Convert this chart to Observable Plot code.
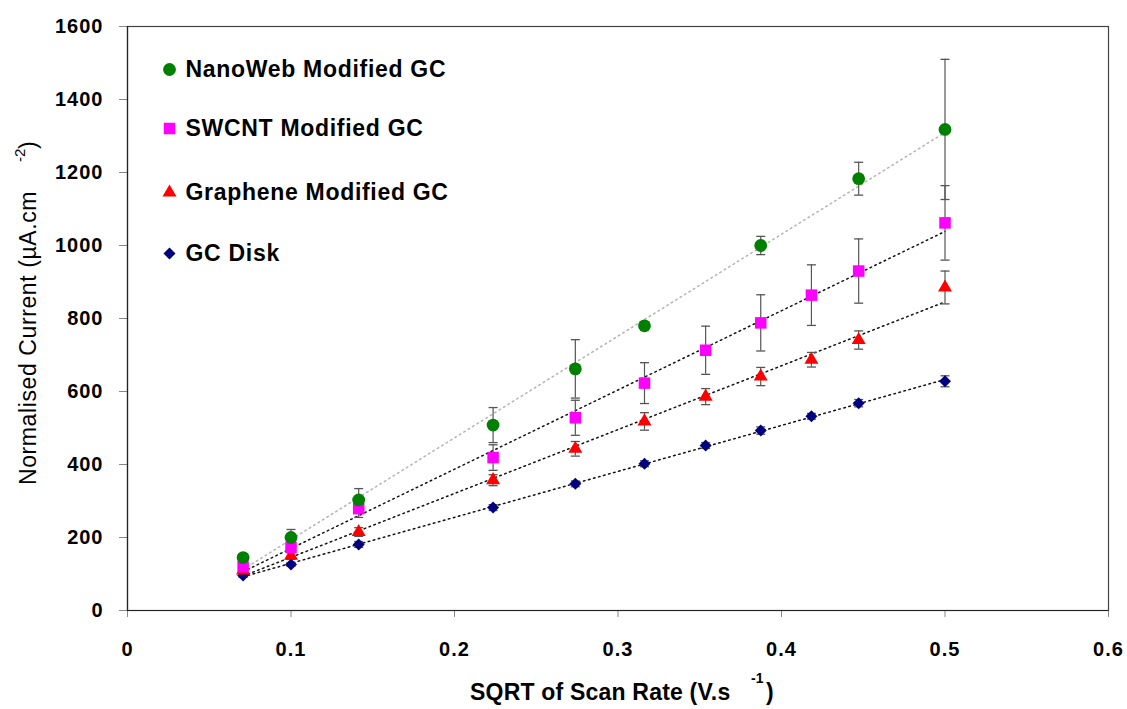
<!DOCTYPE html>
<html>
<head>
<meta charset="utf-8">
<script src="https://cdn.jsdelivr.net/npm/d3@7"></script>
<script src="https://cdn.jsdelivr.net/npm/@observablehq/plot@0.6"></script>
<style>
  html, body { margin: 0; padding: 0; background: white; }
  #chart { width: 1127px; height: 709px; }
</style>
</head>
<body>
<div id="chart"></div>
<script>
// ---- data ----
const scanRateSqrt = [0.0707, 0.1, 0.1414, 0.2236, 0.2739, 0.3162, 0.3536, 0.3873, 0.4183, 0.4472, 0.5];

const nanowebValues = [145, 200, 303, 508, 662, 780, null, 1000, null, 1183, 1318];
const nanowebErrors = [10, 22, 31, 48, 80, 10, null, 25, null, 45, 192];

const swcntValues = [120, 173, 279, 419, 528, 623, 713, 788, 864, 930, 1062];
const swcntErrors = [10, 15, 24, 35, 48, 56, 66, 77, 83, 88, 102];

const grapheneValues = [110, 150, 215, 357, 443, 518, 586, 641, 687, 741, 885];
const grapheneErrors = [8, 10, 12, 15, 20, 24, 22, 25, 20, 25, 45];

const gcDiskValues = [96, 126, 181, 282, 347, 402, 452, 493, 532, 568, 628];
const gcDiskErrors = [5, 5, 8, 8, 8, 8, 8, 10, 8, 10, 15];

const seriesNames = ["NanoWeb Modified GC", "SWCNT Modified GC", "Graphene Modified GC", "GC Disk"];
const xTickValues = [0, 0.1, 0.2, 0.3, 0.4, 0.5, 0.6];
const yTickValues = [0, 200, 400, 600, 800, 1000, 1200, 1400, 1600];

// ---- styles ----
const seriesStyle = {
  "NanoWeb Modified GC": {fill: "#008000", symbol: "circle", r: 6.4, line: "#b4b4b4"},
  "SWCNT Modified GC": {fill: "#ff00ff", symbol: "square", r: 6.5, line: "#111"},
  "Graphene Modified GC": {fill: "#ff0000", symbol: "triangle", r: 5.2, line: "#111"},
  "GC Disk": {fill: "#000080", symbol: "diamond2", r: 5.4, line: "#111"}
};

const valueArrays = [nanowebValues, swcntValues, grapheneValues, gcDiskValues];
const errorArrays = [nanowebErrors, swcntErrors, grapheneErrors, gcDiskErrors];

const rows = [];
seriesNames.forEach((name, i) => {
  scanRateSqrt.forEach((x, j) => {
    const v = valueArrays[i][j];
    if (v != null) rows.push({series: name, x, v, e: errorArrays[i][j]});
  });
});

const capSymbol = {
  draw(ctx) { ctx.moveTo(-4.5, 0); ctx.lineTo(4.5, 0); }
};

const regressionMarks = seriesNames.slice().reverse().map(name =>
  Plot.linearRegressionY(rows.filter(d => d.series === name), {
    x: "x", y: "v", ci: 0,
    stroke: seriesStyle[name].line, strokeWidth: 1.5, strokeDasharray: "1.6,3.6"
  })
);

const errorMarks = [
  Plot.ruleX(rows, {x: "x", y1: d => d.v - d.e, y2: d => d.v + d.e, stroke: "#555", strokeWidth: 1.2}),
  Plot.dot(rows, {x: "x", y: d => d.v + d.e, symbol: capSymbol, fill: "none", stroke: "#555", strokeWidth: 1.3}),
  Plot.dot(rows, {x: "x", y: d => d.v - d.e, symbol: capSymbol, fill: "none", stroke: "#555", strokeWidth: 1.3})
];

const dotMarks = seriesNames.slice().reverse().map(name =>
  Plot.dot(rows.filter(d => d.series === name), {
    x: "x", y: "v", symbol: seriesStyle[name].symbol, r: seriesStyle[name].r,
    fill: seriesStyle[name].fill, stroke: "none"
  })
);

const legendDy = [43, 102, 166, 227];
const legendMarks = seriesNames.flatMap((name, i) => [
  Plot.dot([name], {
    frameAnchor: "top-left", dx: 42, dy: legendDy[i],
    symbol: seriesStyle[name].symbol, r: seriesStyle[name].r,
    fill: seriesStyle[name].fill, stroke: "none"
  }),
  Plot.text([name], {
    text: d => d, frameAnchor: "top-left", dx: 58, dy: legendDy[i] - 9,
    textAnchor: "start", fontSize: 23, fontWeight: "bold", fill: "black"
  })
]);

const chart = Plot.plot({
  width: 1127,
  height: 709,
  marginLeft: 127,
  marginRight: 19,
  marginTop: 26,
  marginBottom: 99,
  style: {fontFamily: "'Liberation Sans', Arial, sans-serif", fontSize: "20px", background: "white", color: "black"},
  x: {domain: [0, 0.6]},
  y: {domain: [0, 1600]},
  marks: [
    Plot.axisX({ticks: xTickValues, tickSize: 7, tickPadding: 24, label: null, stroke: "#888",
      tickFormat: d => d === 0 ? "0" : d3.format(".1f")(d), fontWeight: "bold", fontSize: 20, fill: "black"}),
    Plot.axisY({ticks: yTickValues, tickSize: 8, tickPadding: 16, label: null, stroke: "#888",
      tickFormat: d3.format("d"), fontWeight: "bold", fontSize: 20, fill: "black"}),
    Plot.frame({stroke: "#444", strokeWidth: 1.2}),
    Plot.ruleX([0], {stroke: "#222", strokeWidth: 1.2}),
    Plot.ruleY([0], {stroke: "#222", strokeWidth: 1.2}),
    ...regressionMarks,
    ...errorMarks,
    ...dotMarks,
    ...legendMarks
  ]
});

document.getElementById("chart").appendChild(chart);

const svg = d3.select(chart);
svg.selectAll('g[aria-label="x-axis tick label"] text, g[aria-label="y-axis tick label"] text')
  .attr("font-weight", "bold").attr("letter-spacing", "1");
svg.selectAll('g[aria-label="text"] text').attr("letter-spacing", "0.7");

// axis titles with superscripts
const xLab = svg.append("g").attr("font-family", "'Liberation Sans', Arial, sans-serif")
  .attr("font-weight", "bold").attr("fill", "black").attr("text-anchor", "start");
xLab.append("text").attr("x", 470).attr("y", 700).attr("font-size", 23).attr("letter-spacing", "0.2").text("SQRT of Scan Rate (V.s");
xLab.append("text").attr("x", 751).attr("y", 683).attr("font-size", 14).text("-1");
xLab.append("text").attr("x", 766).attr("y", 700).attr("font-size", 23).text(")");

const yLab = svg.append("g").attr("transform", "translate(36,485) rotate(-90)")
  .attr("font-family", "'Liberation Sans', Arial, sans-serif").attr("fill", "black").attr("text-anchor", "start");
yLab.append("text").attr("x", 0).attr("y", 0).attr("font-size", 23).attr("letter-spacing", "0.6").text("Normalised Current (µA.cm");
yLab.append("text").attr("x", 323).attr("y", -11).attr("font-size", 15).text("-2");
yLab.append("text").attr("x", 336).attr("y", 0).attr("font-size", 23).text(")");
</script>
</body>
</html>
